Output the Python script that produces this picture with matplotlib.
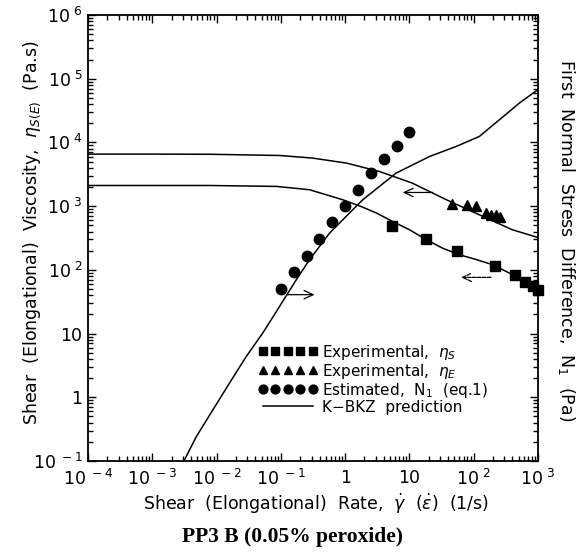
import matplotlib
matplotlib.use('Agg')
import matplotlib.pyplot as plt
from matplotlib.ticker import LogLocator, NullFormatter

# fonts
matplotlib.rcParams['font.family'] = 'DejaVu Sans'
matplotlib.rcParams['mathtext.fontset'] = 'dejavusans'

# measured data: shear viscosity (squares)
shear_rate = [5.35, 18.2, 55.2, 213, 438, 627, 842, 1000]
eta_s = [493, 308, 200, 113.5, 83.5, 65.3, 55.1, 47.8]

# elongational viscosity (triangles)
elong_rate = [46.5, 79.6, 110, 154, 187, 224, 259]
eta_e = [1090, 1030, 1010, 780, 720, 716, 670]

# estimated first normal stress difference (circles)
n1_rate = [0.1, 0.158, 0.251, 0.398, 0.631, 1.0, 1.585, 2.51, 3.98, 6.31, 10.0]
n1_est = [50.7, 92.7, 167, 308, 556, 1005, 1808, 3280, 5400, 8940, 14500]

# K-BKZ predictions
kbkz_e_rate = [1e-4, 9.18e-4, 7.83e-3, 0.0957, 0.312, 1.05, 3.42, 11.1, 37.6, 122, 397, 1000]
kbkz_e_eta = [6560, 6560, 6520, 6240, 5680, 4740, 3500, 2300, 1260, 733, 427, 322]

kbkz_s_rate = [1e-4, 7.83e-3, 0.0861, 0.280, 0.918, 1.86, 3.07, 5.45, 10, 18.4, 32.5, 59.7, 110, 195, 357, 656, 1000]
kbkz_s_eta = [2110, 2110, 2040, 1810, 1260, 968, 780, 575, 427, 297, 220, 173, 145, 121, 89.3, 66.1, 50.1]

kbkz_n1_rate = [3.1e-3, 4.88e-3, 8.83e-3, 0.0160, 0.0291, 0.0527, 0.0957, 0.174, 0.280, 0.573, 0.920,
                1.88, 6.21, 20.5, 53.1, 122, 250, 511, 982]
kbkz_n1 = [0.1, 0.245, 0.644, 1.69, 4.41, 10.3, 26.8, 70.1, 145, 378, 612,
           1260, 3300, 6010, 8630, 12400, 22600, 41300, 66700]

# tick labels
x_ticks = [1e-4, 1e-3, 1e-2, 1e-1, 1, 10, 1e2, 1e3]
x_labels = [r'$\mathregular{10^{\ -4}}$', r'$\mathregular{10^{\ -3}}$', r'$\mathregular{10^{\ -2}}$',
            r'$\mathregular{10^{\ -1}}$', '1', '10', r'$\mathregular{10^{\ 2}}$', r'$\mathregular{10^{\ 3}}$']
y_ticks = [1e-1, 1, 10, 1e2, 1e3, 1e4, 1e5, 1e6]
y_labels = [r'$\mathregular{10^{\ -1}}$', '1', '10', r'$\mathregular{10^{\ 2}}$', r'$\mathregular{10^{\ 3}}$',
            r'$\mathregular{10^{\ 4}}$', r'$\mathregular{10^{\ 5}}$', r'$\mathregular{10^{\ 6}}$']

fig = plt.figure(figsize=(5.84, 5.58), dpi=100)
ax = fig.add_axes([0.1507, 0.1738, 0.7705, 0.7993])

# data points
ax.plot(shear_rate, eta_s, linestyle='none', marker='s', markersize=7, color='black',
        label=r'Experimental,  $\eta_S$', clip_on=False)
ax.plot(elong_rate, eta_e, linestyle='none', marker='^', markersize=7.5, color='black',
        label=r'Experimental,  $\eta_E$')
ax.plot(n1_rate, n1_est, linestyle='none', marker='o', markersize=7.5, color='black',
        label=r'Estimated,  N$_1$  (eq.1)')

# model lines
ax.plot(kbkz_e_rate, kbkz_e_eta, color='black', linewidth=1.1, label='K\u2212BKZ  prediction')
ax.plot(kbkz_s_rate, kbkz_s_eta, color='black', linewidth=1.1)
ax.plot(kbkz_n1_rate, kbkz_n1, color='black', linewidth=1.1)

# arrows showing which axis each curve belongs to
arrow = dict(arrowstyle='->, head_length=0.65, head_width=0.3', color='black', linewidth=0.9,
             shrinkA=0, shrinkB=0)
ax.annotate('', xy=(0.335, 40.8), xytext=(0.123, 40.8), arrowprops=arrow)
ax.annotate('', xy=(7.87, 1640), xytext=(23.0, 1640), arrowprops=arrow)
ax.annotate('', xy=(63.5, 76.3), xytext=(186, 76.3), arrowprops=dict(arrow, linestyle=(0, (3, 1))))

# axes
ax.set_xscale('log')
ax.set_yscale('log')
ax.set_xlim(1e-4, 1e3)
ax.set_ylim(1e-1, 1e6)
ax.set_xticks(x_ticks, x_labels, fontsize=12.5)
ax.set_yticks(y_ticks, y_labels, fontsize=12.5)
ax.xaxis.set_minor_locator(LogLocator(base=10, subs=range(2, 10), numticks=20))
ax.yaxis.set_minor_locator(LogLocator(base=10, subs=range(2, 10), numticks=20))
ax.xaxis.set_minor_formatter(NullFormatter())
ax.yaxis.set_minor_formatter(NullFormatter())
ax.tick_params(which='both', direction='in', top=True, right=True, width=1)
ax.tick_params(which='major', length=6)
ax.tick_params(axis='x', which='major', pad=6)
ax.tick_params(axis='y', which='major', pad=4)
ax.tick_params(which='minor', length=3.5)
for s in ax.spines.values():
    s.set_linewidth(1.3)

ax.set_xlabel(r'Shear  (Elongational)  Rate,  $\dot{\gamma}$  ($\dot{\varepsilon}$)  (1/s)', fontsize=12.5)
ax.xaxis.set_label_coords(0.507, -0.07)
ax.set_ylabel(r'Shear  (Elongational)  Viscosity,  $\eta_{S(E)}$  (Pa.s)', fontsize=12.5)
ax.yaxis.set_label_coords(-0.1, 0.513)
ax.text(1.064, 0.496, r'First  Normal  Stress  Difference,  N$_1$  (Pa)', rotation=-90,
        transform=ax.transAxes, ha='center', va='center', fontsize=12.5)

# legend
ax.legend(loc='upper left', bbox_to_anchor=(0.378, 0.265), frameon=False, numpoints=5,
          fontsize=11, handlelength=3.9, handletextpad=0.25, labelspacing=0.0,
          borderpad=0, borderaxespad=0, markerscale=0.85)

# caption below the chart
fig.text(292 / 584, 1 - 537 / 558, 'PP3 B (0.05% peroxide)', family='Liberation Serif',
         weight='bold', fontsize=15.5, ha='center', va='center')

plt.savefig('out.png', dpi=100)
